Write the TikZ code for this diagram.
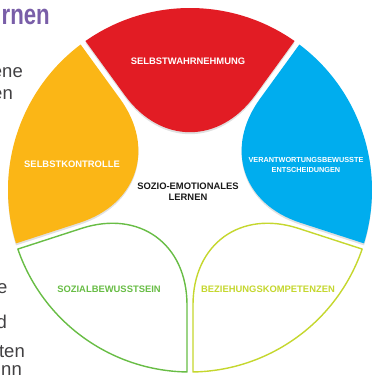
\documentclass[tikz,border=0pt]{standalone}
\usepackage{fontspec}
\setmainfont{Liberation Sans}
\newfontfamily\schmalfont[FakeStretch=0.78]{Liberation Sans}
\usepackage{tikz}
\usetikzlibrary{
  shadows,
  positioning
}
\definecolor{selbstrot}{RGB}{226,28,36}
\definecolor{kontrollgelb}{RGB}{251,182,22}
\definecolor{entscheidblau}{RGB}{0,173,238}
\definecolor{sozialgruen}{RGB}{104,189,69}
\definecolor{beziehunglime}{RGB}{197,215,46}
\definecolor{titellila}{RGB}{121,94,168}
\definecolor{textgrau}{RGB}{65,64,66}

% ein Blatt des Rades, #1 = Richtung der Blattmitte
\newcommand{\blatt}[1]{(#1-35.06:182) arc[start angle=#1-35.06,end angle=#1+35.06,radius=182]
  -- (#1+34.51:115.04) .. controls (#1+32.83:54.11) and (#1-32.83:54.11) .. (#1-34.51:115.04) -- cycle}

\begin{document}
\begin{tikzpicture}[
      x=1pt, y=1pt,
      voll/.style={
         draw=none,
         drop shadow={shadow xshift=0pt,shadow yshift=-2pt,fill=black!35,opacity=.35}
      },
      leer/.style={
         fill=white,
         line width=1.4pt,
         line join=round
      },
      kompetenz/.style={
         font=\bfseries\fontsize{9.4}{11}\selectfont,
         align=center,
         inner sep=0pt
      },
      mitte/.style={
         kompetenz,
         text=black!90
      },
      rest/.style={
         anchor=base east,
         inner sep=0pt,
         text=textgrau,
         font=\fontsize{18.5}{22}\selectfont
      },
      titel/.style={
         anchor=base east,
         inner sep=0pt,
         text=titellila,
         font=\schmalfont\bfseries\fontsize{28.5}{32}\selectfont
      }
    ]
    \useasboundingbox (-190,-185) rectangle (182,190);
    % Textreste links vom Rad
    \node (ftitel) [titel] at (-140,165) {rnen};
    \node (frest1) [rest] at (-167,112) {ene};
    \node (frest2) [rest] at (-177,90) {en};
    \node (frest3) [rest] at (-182.5,-103) {e};
    \node (frest4) [rest] at (-183,-138) {d};
    \node (frest5) [rest] at (-165,-167) {ten};
    \node (frest6) [rest] at (-168,-185) {nn};
    % die fuenf Blaetter
    \fill[voll, fill=selbstrot] \blatt{90};
    \fill[voll, fill=entscheidblau] \blatt{18};
    \fill[voll, fill=kontrollgelb] \blatt{162};
    \filldraw[leer, draw=sozialgruen] \blatt{-126};
    \filldraw[leer, draw=beziehunglime] \blatt{-54};
    % Beschriftung
    \node (nwahr) [kompetenz, text=white] at (-2,129) {SELBSTWAHRNEHMUNG};
    \node (nverant) [kompetenz, text=white, font=\bfseries\fontsize{7.3}{9.5}\selectfont] at (116,25) {VERANTWORTUNGSBEWUSSTE\\ENTSCHEIDUNGEN};
    \node (nkontr) [kompetenz, text=white] at (-118,26) {SELBSTKONTROLLE};
    \node (nsozial) [kompetenz, text=sozialgruen] at (-81,-99) {SOZIALBEWUSSTSEIN};
    \node (nbezieh) [kompetenz, text=beziehunglime] at (78,-99.5) {BEZIEHUNGSKOMPETENZEN};
    \node (nmitte) [mitte] at (-2,-2) {SOZIO-EMOTIONALES\\LERNEN};
\end{tikzpicture}
\end{document}
